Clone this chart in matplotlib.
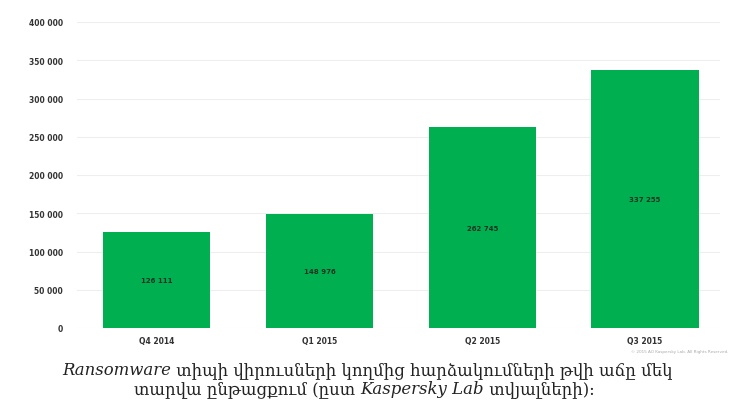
import matplotlib
matplotlib.use("Agg")
import matplotlib.pyplot as plt

quarters = ["Q4 2014", "Q1 2015", "Q2 2015", "Q3 2015"]
attacks = [125490, 149020, 262745, 337255]
value_labels = ["126 111", "148 976", "262 745", "337 255"]
yticks = [0, 50000, 100000, 150000, 200000, 250000, 300000, 350000, 400000]

green = "#00b050"

fig = plt.figure(figsize=(7.31, 4.06), dpi=100)
W, H = 731, 406
ax = fig.add_axes([77 / W, 1 - 329 / H, (720 - 77) / W, (329 - 23) / H])

x = range(len(quarters))
ax.bar(x, attacks, width=0.66, color=green, zorder=2)
for i, v in enumerate(attacks):
    ax.text(i, v / 2, value_labels[i], ha="center", va="center",
            fontsize=5, fontweight="bold", color="#1a3322", zorder=3)

ax.set_xlim(-0.49, 3.46)
ax.set_ylim(0, 400000)
ax.set_yticks(yticks)
ax.set_yticklabels([f"{t:,}".replace(",", " ") for t in yticks],
                   fontsize=5.5, fontweight="bold", color="#333333")
ax.set_xticks(list(x))
ax.set_xticklabels(quarters, fontsize=5.5, fontweight="bold", color="#333333")
ax.tick_params(length=0, pad=10)
ax.tick_params(axis="x", pad=6)
ax.grid(axis="y", color="#eeeeee", linewidth=0.8, zorder=0)
for s in ax.spines.values():
    s.set_visible(False)

fig.text(728 / W, 1 - 352 / H, "© 2015 AO Kaspersky Lab. All Rights Reserved.",
         ha="right", va="center", fontsize=3, color="#aaaaaa")


# caption line made of normal and italic pieces, centred on xc
def chain(parts, xc, y0):
    fig.canvas.draw()
    r = fig.canvas.get_renderer()
    texts = []
    xpos = 0
    for txt, style in parts:
        t = fig.text(xpos, y0, txt, ha="left", va="baseline", fontsize=11.9,
                     family="DejaVu Serif", style=style, color="#222222")
        xpos += t.get_window_extent(renderer=r).width / W
        texts.append(t)
    shift = xc - xpos / 2
    for t in texts:
        px, py = t.get_position()
        t.set_position((px + shift, py))


line1 = [("Ransomware", "italic"),
         (" տիպի վիրուսների կողմից հարձակումների թվի աճը մեկ", "normal")]
line2 = [("տարվա ընթացքում (ըստ ", "normal"), ("Kaspersky Lab", "italic"),
         (" տվյալների):", "normal")]
chain(line1, 367 / W, 1 - 375 / H)
chain(line2, 364 / W, 1 - 394 / H)

fig.savefig("out.png", dpi=100)
